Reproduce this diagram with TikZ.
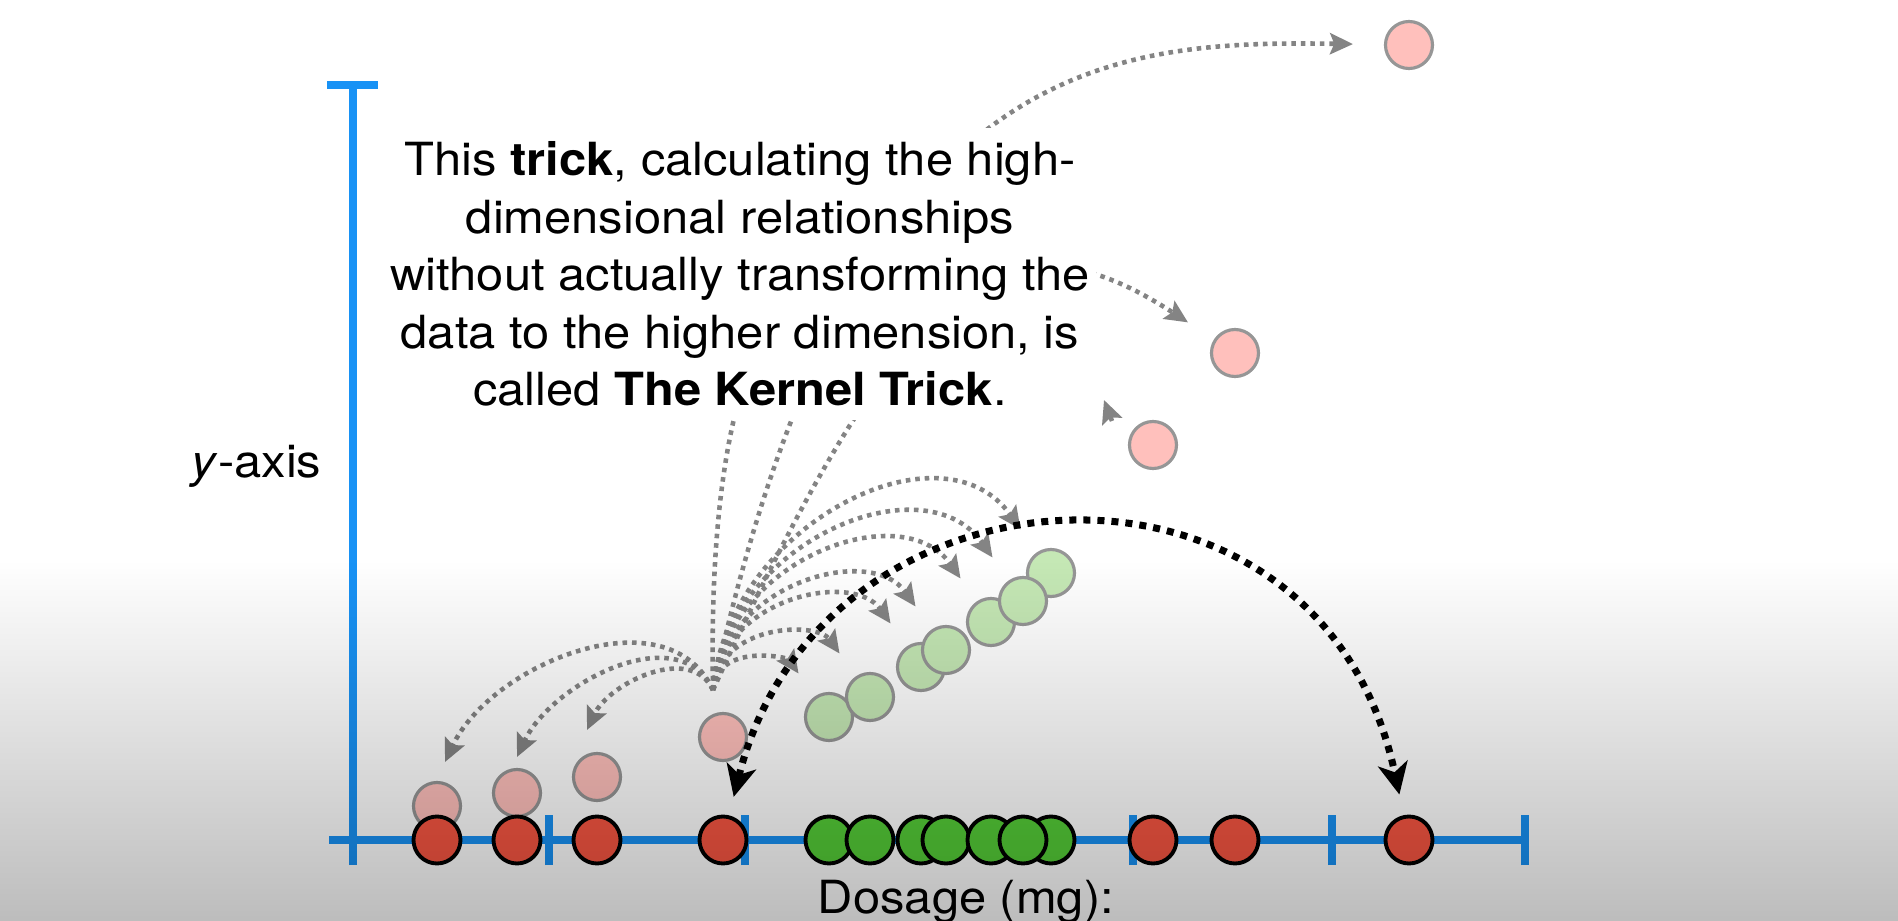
\documentclass[tikz,border=0pt]{standalone}
\usepackage{fontspec}
\setmainfont[FakeStretch=1.07]{TeX Gyre Heros}
\usepackage{xcolor}
\definecolor{axisblue}{RGB}{24,146,245}
\definecolor{dotred}{RGB}{248,86,66}
\definecolor{dotgreen}{RGB}{85,206,56}
\definecolor{palepink}{RGB}{255,192,188}
\definecolor{palegreen}{RGB}{197,232,181}
\definecolor{fangray}{RGB}{132,132,132}
\definecolor{rimgray}{RGB}{150,150,150}
\usepackage{tikz}
\usetikzlibrary{arrows.meta}

\tikzset{
  axisline/.style={draw=axisblue, line width=2.3pt},
  dot/.style={circle, draw=black, line width=1.1pt, minimum size=0.47cm, inner sep=0pt},
  reddot/.style={dot, fill=dotred},
  greendot/.style={dot, fill=dotgreen},
  pinkdot/.style={dot, draw=rimgray, line width=0.9pt, fill=palepink},
  ghostdot/.style={dot, draw=rimgray, line width=0.9pt, fill=palegreen},
  fanline/.style={draw=fangray, line width=1.3pt, dash pattern=on 1.3pt off 1.4pt},
  fan/.style={fanline, -{Stealth[length=6.5pt,width=6pt,inset=1.2pt]}},
  kernel/.style={draw=black, line width=2pt, dash pattern=on 2pt off 2pt,
    {Stealth[length=9pt,width=8.5pt,inset=2.5pt]}-{Stealth[length=9pt,width=8.5pt,inset=2.5pt]}},
  textbox/.style={fill=white, align=center, inner sep=0pt,
    minimum width=7.12cm, minimum height=2.92cm,
    font=\fontsize{13}{16.4}\selectfont},
  label/.style={inner sep=0pt, font=\fontsize{13}{16.2}\selectfont}
}

\begin{document}
\begin{tikzpicture}
  \useasboundingbox (0,0) rectangle (18.98,9.20);
  \fill[white] (0,0) rectangle (18.98,9.20);

  % axes
  \draw[axisline] (3.53,0.55) -- (3.53,8.35);
  \draw[axisline] (3.27,8.35) -- (3.78,8.35);
  \draw[axisline] (3.29,0.80) -- (15.27,0.80);
  \foreach \x in {5.49,7.45,11.33,13.32,15.25}
    \draw[axisline] (\x,0.55) -- (\x,1.05);

  % lifted points
  \foreach \x/\y [count=\i] in {4.37/1.14,5.17/1.27,5.97/1.43,7.23/1.83,11.53/4.75,12.35/5.67,14.09/8.75}
    \node[pinkdot] (l\i) at (\x,\y) {};
  \foreach \i/\x/\y in {1/8.29/2.03,2/8.70/2.23,3/9.21/2.53,4/9.46/2.70,5/9.91/2.98,7/10.51/3.47,6/10.23/3.19}
    \node[ghostdot] (k\i) at (\x,\y) {};

  % points on the dosage axis
  \foreach \x [count=\i] in {4.37,5.17,5.97,7.23,11.53,12.35,14.09}
    \node[reddot] (r\i) at (\x,0.80) {};
  \foreach \i/\x in {1/8.29,2/8.70,3/9.21,4/9.46,5/9.91,7/10.51,6/10.23}
    \node[greendot] (g\i) at (\x,0.80) {};

  % relationships from one point to all the others
  \coordinate (src) at (7.13,2.30);
  \foreach \x/\y [count=\i] in {4.45/1.58,5.17/1.63,5.87/1.90}
    \coordinate (l\i tip) at (\x,\y);
  \foreach \i in {1,2,3}
    \draw[fan] (src) to[out=115,in=65] (l\i tip);
  \foreach \i in {1,...,7}
    \draw[fan, shorten >=0.28cm] (src) to[out=85,in=125,looseness=1.2] (k\i);
  \coordinate (l5hid) at (10.90,5.30);
  \coordinate (l5tail) at (11.12,4.99);
  \coordinate (l5tip) at (11.04,5.20);
  \draw[fanline] (src) .. controls (7.00,9.20) and (10.40,6.00) .. (l5hid);
  \draw[fan] (l5tail) -- (l5tip);
  \draw[fan, shorten >=0.31cm] (src) .. controls (9.00,6.40) and (10.00,7.20) .. (l6);
  \draw[fan, shorten >=0.31cm] (src) .. controls (8.50,8.60) and (11.00,8.80) .. (l7);

  \node[textbox] (note) at (7.40,6.46)
    {This \textbf{trick}, calculating the high-\\
     dimensional relationships\\
     without actually transforming the\\
     data to the higher dimension, is\\
     called \textbf{The Kernel Trick}.};

  \draw[kernel, shorten <=0.19cm, shorten >=0.21cm]
    (r4) .. controls (8.20,4.70) and (13.20,5.00) .. (r7);

  \node[label, anchor=base east] (ylabel) at (3.22,4.42) {\textit{y}-axis};
  \node[label, anchor=base] (xlabel) at (9.66,0.07) {Dosage (mg):};

  % grey shading over the lower part
  \begin{scope}[blend mode=multiply]
    \shade[top color=white, bottom color=black!26] (0,0) rectangle (18.98,3.60);
  \end{scope}
\end{tikzpicture}
\end{document}
